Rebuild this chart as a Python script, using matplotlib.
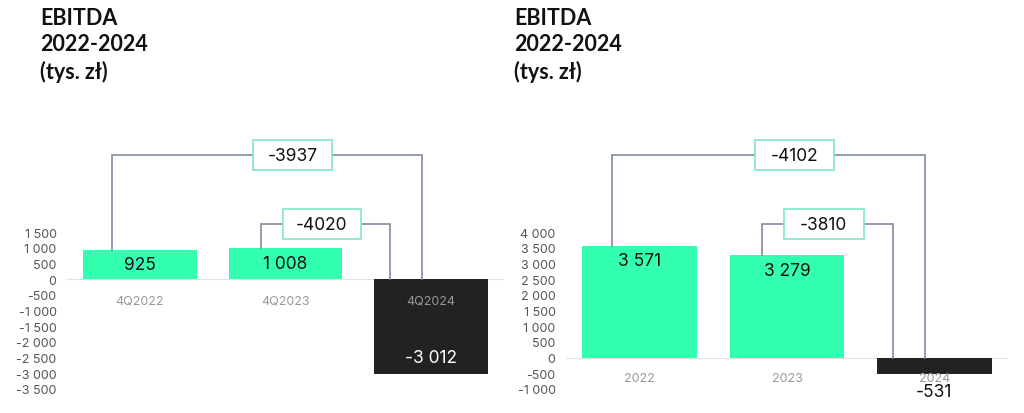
import matplotlib.pyplot as plt
import matplotlib.patches as mpatches
import numpy as np

# ---------------- data ----------------
left_cats = ['4Q2022', '4Q2023', '4Q2024']
left_vals = [925, 1008, -3012]
left_ticks = np.arange(-3500, 1501, 500)

right_cats = ['2022', '2023', '2024']
right_vals = [3571, 3279, -531]
right_ticks = np.arange(-1000, 4001, 500)

title = 'EBITDA\n2022-2024\n(tys. zł)'

GREEN = '#33ffb0'
DARK = '#222222'
LINE = '#838aa2'
BOXEDGE = '#7fe8c4'
NUMFONT = 'Inter'


def fmt(v):
    s = f'{abs(v):,}'.replace(',', ' ')
    return ('-' if v < 0 else '') + s


def draw_panel(ax, cats, vals, ticks, ylim, levels, inside_top):
    x = np.arange(len(cats))
    colors = [GREEN if v >= 0 else DARK for v in vals]
    ax.bar(x, vals, width=0.78, color=colors, zorder=2)
    ax.axhline(0, color='#e2e2e2', lw=0.8, zorder=1)
    ax.set_xlim(-0.5, 2.5)
    ax.set_ylim(*ylim)
    ax.set_yticks(ticks)
    ax.set_yticklabels([fmt(t) for t in ticks], fontfamily=NUMFONT,
                       fontsize=9, color='#555555')
    ax.tick_params(axis='y', length=0, pad=7.5)
    ax.set_xticks([])
    for s in ax.spines.values():
        s.set_visible(False)

    # category labels under zero line
    for xi, c in zip(x, cats):
        ax.annotate(c, (xi, 0), xytext=(0, -15), textcoords='offset points',
                    ha='center', va='center', fontsize=9, color='#999999',
                    fontfamily=NUMFONT, zorder=4)

    # value labels
    for xi, v in zip(x, vals):
        if v >= 0:
            if inside_top:
                ax.annotate(fmt(v), (xi, v), xytext=(0, -11), textcoords='offset points',
                            ha='center', va='center', fontsize=12.5, color='#111111',
                            fontfamily=NUMFONT, zorder=4)
            else:
                ax.text(xi, v / 2, fmt(v), ha='center', va='center', fontsize=12.5,
                        color='#111111', fontfamily=NUMFONT, zorder=4)
        else:
            if inside_top:
                ax.annotate(fmt(v), (xi, v), xytext=(0, -12.5), textcoords='offset points',
                            ha='center', va='center', fontsize=12.5, color='#111111',
                            fontfamily=NUMFONT, zorder=4)
            else:
                ax.annotate(fmt(v), (xi, v), xytext=(0, 12), textcoords='offset points',
                            ha='center', va='center', fontsize=12.5, color='white',
                            fontfamily=NUMFONT, zorder=4)

    # brackets: difference of last vs first and second
    px = (ylim[1] - ylim[0]) / 270.0
    specs = [(0, -0.19, -0.06, levels[0], 1.05), (1, -0.17, -0.28, levels[1], 1.25)]
    for i, lo, ro, lev, bx in specs:
        x0 = x[i] + lo
        x1 = x[2] + ro
        ax.plot([x0, x0, x1, x1], [vals[i], lev, lev, 0], color=LINE, lw=1.2,
                zorder=3, solid_joinstyle='miter')
        w = 0.54
        h = 30 * px
        ax.add_patch(mpatches.Rectangle((bx - w / 2, lev - h / 2), w, h, fc='white',
                                        ec=BOXEDGE, lw=1.2, zorder=5))
        ax.text(bx, lev, str(vals[2] - vals[i]), ha='center', va='center',
                fontsize=12.5, color='#111111', fontfamily=NUMFONT, zorder=6)


fig = plt.figure(figsize=(10.24, 4.14), dpi=100)
ax1 = fig.add_axes([67 / 1024, 14 / 414, 437 / 1024, 270 / 414])
ax2 = fig.add_axes([566 / 1024, 14 / 414, 442 / 1024, 270 / 414])

draw_panel(ax1, left_cats, left_vals, left_ticks, (-3820, 4797), (3967, 1765), False)
draw_panel(ax2, right_cats, right_vals, right_ticks, (-1321, 7296), (6466, 4264), True)

for xt in (40, 514):
    fig.text(xt / 1024, 1 - 8 / 414, title, ha='left', va='top', fontsize=15.5,
             fontweight='bold', fontfamily='Lato', color='#111111', linespacing=1.3)

fig.savefig('out.png', dpi=100)
